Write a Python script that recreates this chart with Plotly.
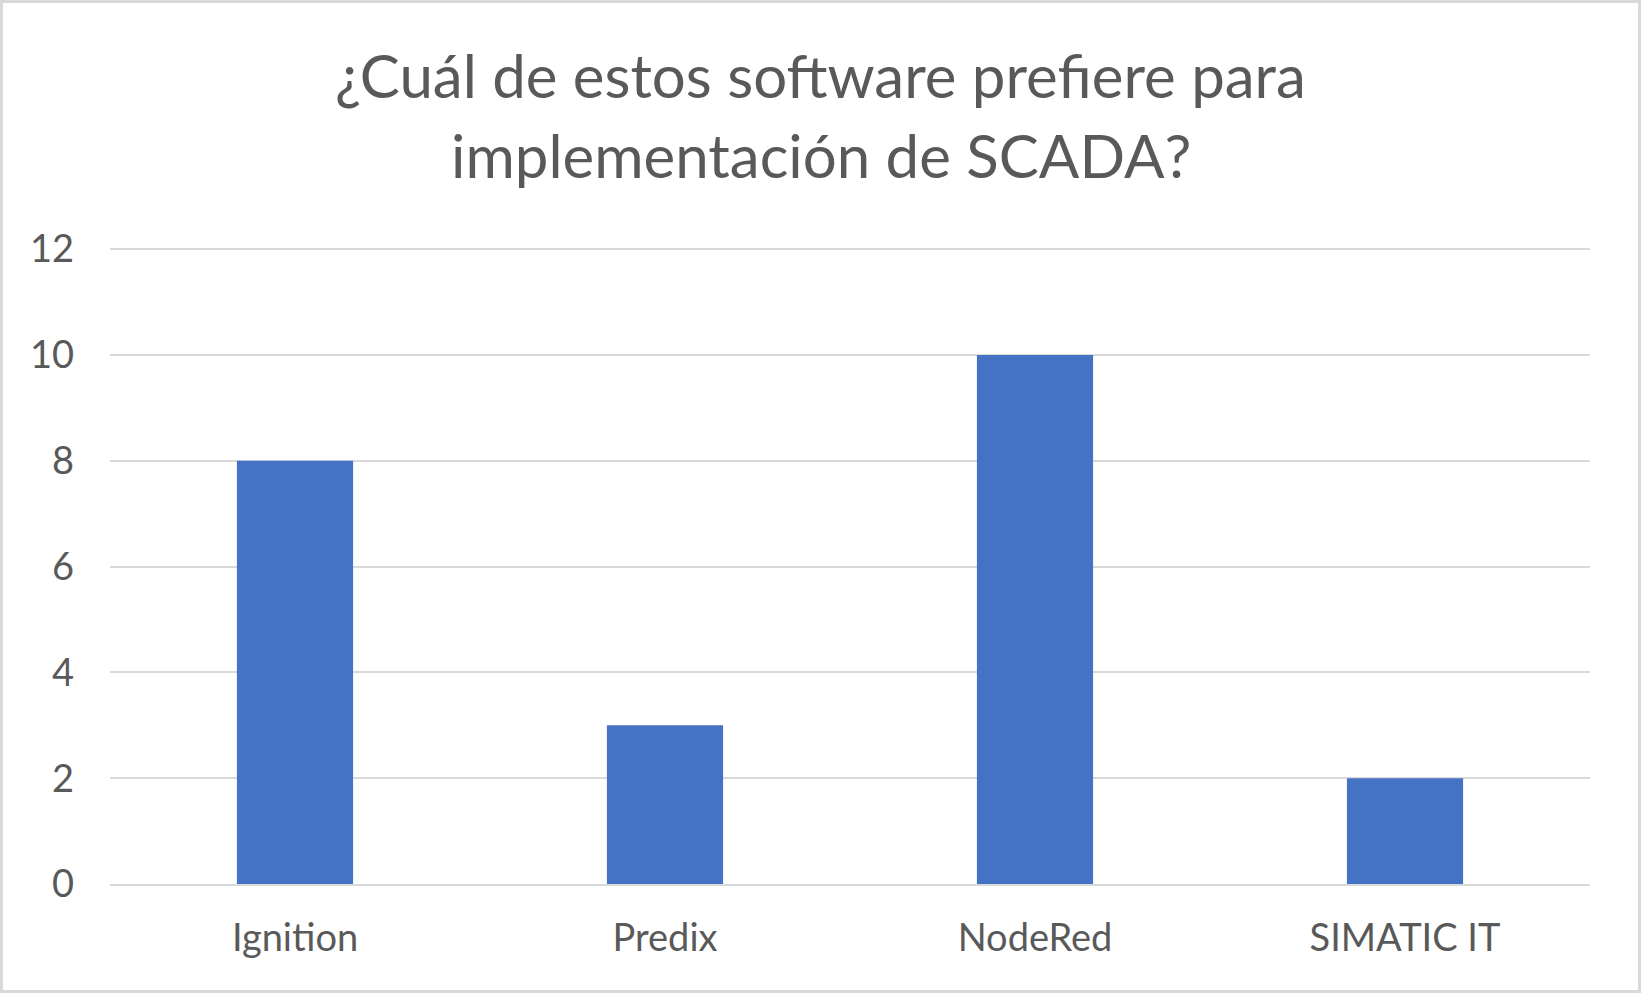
import plotly.graph_objects as go

categories = ["Ignition", "Predix", "NodeRed", "SIMATIC IT"]
values = [8, 3, 10, 2]
y_ticks = [0, 2, 4, 6, 8, 10, 12]
title_lines = ["¿Cuál de estos software prefiere para", "implementación de SCADA?"]

W, H = 1641, 993
L, R, T, B = 110, 51, 247, 109
pw, ph = W - L - R, H - T - B

def py_to_paper(py):
    return (T + ph - py) / ph

def px_to_paper(px):
    return (px - L) / pw

fig = go.Figure(go.Bar(x=categories, y=values, marker=dict(color="#4472C4", line=dict(width=0)),
                       hoverinfo="x+y"))

font_family = "Lato, Carlito, Calibri, sans-serif"
title_centers = [75, 155]
annotations = [dict(text=t, x=px_to_paper(W / 2), xref="paper", xanchor="center",
                    y=py_to_paper(c), yref="paper", yanchor="middle", showarrow=False,
                    font=dict(size=60, color="#595959", family=font_family))
               for t, c in zip(title_lines, title_centers)]

fig.update_layout(
    width=W, height=H,
    margin=dict(l=L, r=R, t=T, b=B),
    paper_bgcolor="white", plot_bgcolor="white",
    bargap=0.686,
    showlegend=False,
    font=dict(family=font_family, color="#595959"),
    annotations=annotations,
    xaxis=dict(showgrid=False, showline=True, linecolor="#d9d9d9", linewidth=2,
               ticks="", tickfont=dict(size=38, color="#595959"), ticklabelstandoff=19,
               fixedrange=True),
    yaxis=dict(range=[0, 12.04], tickvals=y_ticks, showgrid=True, gridcolor="#d9d9d9", gridwidth=2,
               zeroline=False, showline=False, ticks="",
               tickfont=dict(size=38, color="#595959"), ticklabelstandoff=35,
               fixedrange=True),
    shapes=[dict(type="rect", xref="paper", yref="paper",
                 x0=px_to_paper(1.5), x1=px_to_paper(W - 1.5),
                 y0=py_to_paper(H - 1.5), y1=py_to_paper(1.5),
                 line=dict(color="#d9d9d9", width=3), fillcolor="rgba(0,0,0,0)", layer="below")],
)

fig.write_html("out.html", config={"displayModeBar": False},
               post_script="document.body.style.margin='0';document.body.style.overflow='hidden';")
